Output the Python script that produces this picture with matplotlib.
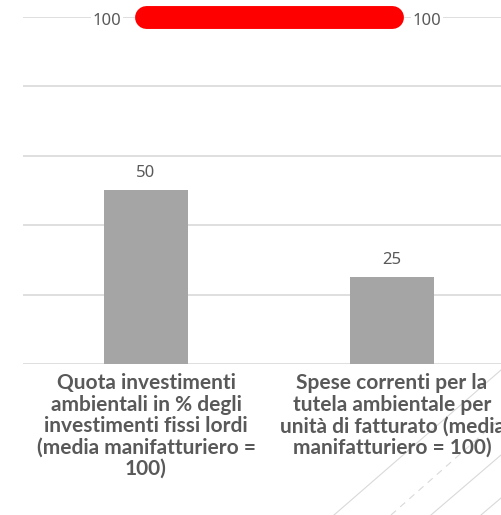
import matplotlib
matplotlib.use("Agg")
import matplotlib.pyplot as plt
from matplotlib.lines import Line2D
import matplotlib.transforms as mtransforms

# data
categories = [
    "Quota investimenti\nambientali in % degli\ninvestimenti fissi lordi\n(media manifatturiero =\n100)",
    "Spese correnti per la\ntutela ambientale per\nunità di fatturato (media\nmanifatturiero = 100)",
]
bar_values = [50, 25]
reference_values = [100, 100]   # media manifatturiero
y_ticks = [0, 20, 40, 60, 80, 100]

TEXT_GREY = "#595959"
BAR_GREY = "#a5a5a5"
GRID_GREY = "#d9d9d9"

W, H = 501, 515
fig = plt.figure(figsize=(W / 100, H / 100), dpi=100)
# plot area runs past the right edge of the picture, as in the original
ax = fig.add_axes([23 / W, 151 / H, 492 / W, 347 / H])

x = list(range(len(categories)))
ax.bar(x, bar_values, width=0.34, color=BAR_GREY, zorder=2)
ax.set_xlim(-0.5, len(categories) - 0.5)
ax.set_ylim(0, 100)
ax.set_yticks(y_ticks)
ax.yaxis.grid(True, color=GRID_GREY, linewidth=1.2, zorder=0)
ax.tick_params(left=False, bottom=False, labelleft=False, labelbottom=False)
for side in ["left", "right", "top", "bottom"]:
    ax.spines[side].set_visible(False)
ax.set_axisbelow(True)

# bar value labels
for xi, v in zip(x, bar_values):
    ax.annotate(str(v), (xi, v), xytext=(0, 7), textcoords="offset points",
                ha="center", va="bottom", fontsize=12, color=TEXT_GREY,
                family="Noto Sans")

# red reference line with end labels
ax.plot(x, reference_values, color="#ff0000", linewidth=16.5,
        solid_capstyle="round", zorder=4, clip_on=False)
box = dict(boxstyle="square,pad=0.1", facecolor="white", edgecolor="none")
ax.annotate(str(reference_values[0]), (x[0], reference_values[0]),
            xytext=(-18, -3), textcoords="offset points", ha="right", va="center",
            fontsize=12, color=TEXT_GREY, family="Noto Sans", bbox=box,
            zorder=5, annotation_clip=False)
ax.annotate(str(reference_values[-1]), (x[-1], reference_values[-1]),
            xytext=(15, -3), textcoords="offset points", ha="left", va="center",
            fontsize=12, color=TEXT_GREY, family="Noto Sans", bbox=box,
            zorder=5, annotation_clip=False)

# category labels below the axis
trans = mtransforms.blended_transform_factory(ax.transData, ax.transAxes)
for xi, lab in zip(x, categories):
    ax.text(xi, -0.027, lab, transform=trans, ha="center", va="top",
            fontsize=15, fontweight="bold", color=TEXT_GREY, family="Lato",
            linespacing=1.09)

# faint diagonal decoration lines in the lower-right corner
diag = [((334, 515), (501, 370), "-"),
        ((391, 515), (501, 418), (0, (6, 5))),
        ((431, 515), (501, 455), "-"),
        ((481, 515), (501, 498), "-")]
for (x0, y0), (x1, y1), ls in diag:
    fig.add_artist(Line2D([x0 / W, x1 / W], [1 - y0 / H, 1 - y1 / H],
                          transform=fig.transFigure, color="#d9d9d9",
                          linewidth=0.8, linestyle=ls, zorder=0))

fig.savefig("out.png", dpi=100)
